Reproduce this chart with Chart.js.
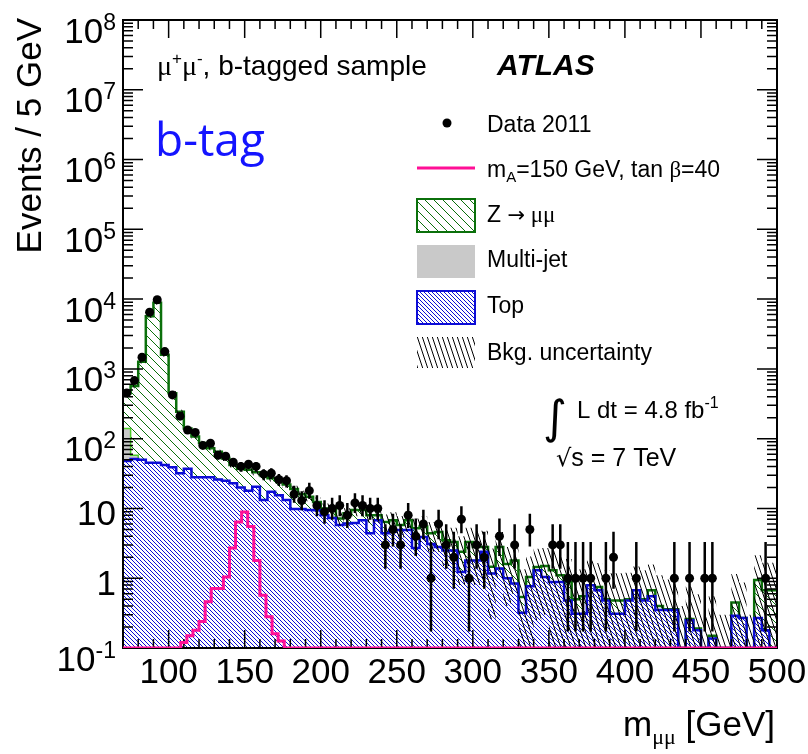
<!DOCTYPE html>
<html>
<head>
<meta charset="utf-8">
<title>m_mumu, b-tagged sample</title>
<script src="https://cdn.jsdelivr.net/npm/chart.js@4.4.1/dist/chart.umd.min.js"></script>
<style>
    html, body { margin: 0; padding: 0; background: #fff; }
    #wrap { width: 808px; height: 754px; }
</style>
</head>
<body>
<div id="wrap"><canvas id="massChart" width="808" height="754"></canvas></div>
<script>
(function () {
    'use strict';

    // 5 GeV bins, 70 - 500 GeV
    var binEdges = [70, 75, 80, 85, 90, 95, 100, 105, 110, 115, 120, 125, 130, 135, 140, 145, 150, 155, 160, 165,
        170, 175, 180, 185, 190, 195, 200, 205, 210, 215, 220, 225, 230, 235, 240, 245, 250, 255, 260, 265,
        270, 275, 280, 285, 290, 295, 300, 305, 310, 315, 320, 325, 330, 335, 340, 345, 350, 355, 360, 365,
        370, 375, 380, 385, 390, 395, 400, 405, 410, 415, 420, 425, 430, 435, 440, 445, 450, 455, 460, 465,
        470, 475, 480, 485, 490, 495, 500];

    var dataCounts = [450, 680, 1470, 6500, 9800, 1770, 424, 210, 133, 123,
        80, 86, 58, 56, 46, 40, 43, 40, 31, 32,
        26, 25, 16, 13, 18, 11, 9, 10, 11, 8,
        12, 11, 10, 10, 3, 5, 3, 8, 4, 6,
        1, 6, 3, 2, 7, 1, 3, 2, 0, 4,
        0, 3, 0, 5, 0, 0, 3, 3, 1, 1,
        1, 1, 0, 1, 2, 0, 0, 1, 0, 0,
        0, 0, 1, 0, 1, 0, 1, 1, 0, 0,
        0, 0, 0, 0, 1, 0];

    var zmumuValues = [307, 512, 1220, 5655, 8855, 1548, 408, 212, 103, 79,
        59, 45, 39, 27, 19, 17, 18, 12.5, 16.8, 9.7,
        9.5, 8.8, 9.2, 6.2, 5.2, 3.0, 2.0, 2.7, 1.4, 2.4,
        3.3, 2.7, 3.6, 1.2, 2.0, 1.9, 0.9, 1.9, 2.5, 1.6,
        1.3, 1.8, 1.0, 0.8, 1.17, 1.5, 1.0, 0.4, 0.29, 1.42,
        0.6, 0.96, 0.22, 0.27, 0.15, 0.46, 0.42, 0.22, 0.4, 0.19,
        0.24, 0, 0.08, 0.02, 0.17, 0.17, 0.02, 0, 0.02, 0.12,
        0.05, 0.01, 0.01, 0, 0.01, 0.01, 0, 0.013, 0, 0,
        0.16, 0, 0, 0.67, 0.49, 0.67];

    // only the first bins carry multi-jet
    var multijetValues = [92, 7];

    var topValues = [48, 51, 50, 45, 45, 42, 39, 32, 37, 28,
        28, 28, 26, 25, 23, 20, 18, 20.5, 13.2, 17.3,
        15.5, 13.2, 9.8, 9.8, 9.5, 9.4, 8.0, 7.3, 5.8, 6.1,
        6.2, 6.8, 4.4, 6.8, 4.4, 4.9, 4.9, 4.9, 2.7, 3.9,
        3.1, 2.8, 2.5, 2.5, 1.23, 1.8, 1.8, 2.4, 1.17, 1.38,
        1.0, 0.84, 0.32, 0.77, 1.3, 1.04, 0.88, 0.88, 0.48, 0.31,
        0.31, 0.79, 0.67, 0.48, 0.31, 0.31, 0.48, 0.67, 0.48, 0.55,
        0.35, 0.35, 0.35, 0, 0.25, 0.18, 0, 0.137, 0, 0,
        0.29, 0.27, 0, 0.27, 0.18, 0];

    var bkgError = [30, 40, 80, 350, 550, 100, 30, 15, 9, 7,
        6, 5, 4.5, 4, 3.5, 3.2, 3.2, 3, 2.8, 2.6,
        2.5, 2.3, 2.1, 2, 2, 2, 1.8, 1.8, 1.6, 1.6,
        1.8, 1.8, 1.8, 1.8, 1.8, 2, 2, 2.2, 2, 2.2,
        2, 2.2, 2, 2, 1.6, 2, 2, 2, 1.2, 1.8,
        1.2, 1.2, 0.8, 1, 1.2, 1.2, 1.2, 1.1, 1, 0.8,
        0.8, 1, 0.9, 0.8, 0.7, 0.7, 0.7, 0.8, 0.8, 0.9,
        0.7, 0.6, 0.6, 0.4, 0.5, 0.4, 0.3, 0.4, 0.3, 0.3,
        0.7, 0.6, 0.3, 1.2, 1, 1];

    // signal histogram uses 4 GeV bins
    var signalEdges = [70, 108, 112, 116, 120, 124, 128, 132, 136, 140, 144, 148, 152, 156, 160, 164, 168, 172, 176, 500];
    var signalValues = [0, 0.12, 0.15, 0.18, 0.24, 0.46, 0.71, 0.71, 1.04, 2.7, 6.4, 8.9, 5.5, 1.8, 0.57, 0.28, 0.16, 0.126, 0];

    var xTickLabels = [100, 150, 200, 250, 300, 350, 400, 450, 500];
    var yTickPowers = [-1, 0, 1, 2, 3, 4, 5, 6, 7, 8];

    // 68% Poisson intervals for small counts
    var poissonLo = [0, 0.173, 0.708, 1.367, 2.086, 2.840, 3.620, 4.419, 5.232, 6.057, 6.891,
        7.734, 8.585, 9.441, 10.30, 11.17, 12.04, 12.92, 13.80, 14.68, 15.57];
    var poissonHi = [1.841, 3.300, 4.638, 5.918, 7.163, 8.382, 9.584, 10.77, 11.95, 13.11, 14.27,
        15.42, 16.56, 17.70, 18.83, 19.96, 21.08, 22.20, 23.32, 24.44, 25.55];

    var Y_MIN = 0.1;
    var Y_MAX = 1e8;
    var SANS = '"Liberation Sans", Arial, Helvetica, sans-serif';
    var SERIF = '"Liberation Serif", "DejaVu Serif", serif';
    var GREEN = '#0b700b';
    var BLUE = '#0c0cd6';
    var PINK = '#ff0f96';
    var GREY = '#c9c9c9';

    var canvas = document.getElementById('massChart');
    var mainCtx = canvas.getContext('2d');

    function hatch(color, bg, step, steep, width) {
        var c = document.createElement('canvas');
        var w = step;
        var h = steep ? step * 3 : step;
        c.width = w;
        c.height = h;
        var g = c.getContext('2d');
        if (bg) {
            g.fillStyle = bg;
            g.fillRect(0, 0, w, h);
        }
        g.strokeStyle = color;
        g.lineWidth = width;
        g.beginPath();
        for (var k = -1; k <= 1; k++) {
            g.moveTo(k * w, 0);
            g.lineTo(k * w + w, h);
        }
        g.stroke();
        return mainCtx.createPattern(c, 'repeat');
    }

    var zHatch = hatch(GREEN, '#fff', 9, false, 1);
    var topHatch = hatch(BLUE, '#fff', 4, false, 1);
    var bandHatch = hatch('#000', null, 5, true, 1);

    function clampLog(v) {
        return v > Y_MIN ? v : Y_MIN;
    }

    function stepPoints(edges, values) {
        var pts = [];
        for (var i = 0; i < values.length; i++) {
            pts.push({ x: edges[i], y: clampLog(values[i]) });
        }
        pts.push({ x: edges[values.length], y: clampLog(values[values.length - 1]) });
        return pts;
    }

    var topStack = [];
    var mjStack = [];
    var zStack = [];
    var bandHi = [];
    var bandLo = [];
    for (var i = 0; i < topValues.length; i++) {
        var t = topValues[i];
        var m = t + (multijetValues[i] || 0);
        var z = m + zmumuValues[i];
        topStack.push(t);
        mjStack.push(m);
        zStack.push(z);
        bandHi.push(z + bkgError[i]);
        bandLo.push(z - bkgError[i]);
    }

    var dataPoints = [];
    for (i = 0; i < dataCounts.length; i++) {
        if (dataCounts[i] > 0) {
            dataPoints.push({ x: (binEdges[i] + binEdges[i + 1]) / 2, y: dataCounts[i], n: dataCounts[i] });
        }
    }

    function poissonRange(n) {
        if (n < poissonLo.length) {
            return [poissonLo[n], poissonHi[n]];
        }
        var s = Math.sqrt(n);
        return [n - s, n + s];
    }

    function drawRuns(ctx, x, y, runs, align) {
        var total = 0;
        runs.forEach(function (r) {
            ctx.font = r.font;
            r.w = ctx.measureText(r.t).width;
            total += r.w;
        });
        if (align === 'right') {
            x -= total;
        }
        ctx.textAlign = 'left';
        runs.forEach(function (r) {
            ctx.font = r.font;
            ctx.fillText(r.t, x, y + (r.dy || 0));
            x += r.w;
        });
    }

    function drawFrame(chart) {
        var ctx = chart.ctx;
        var a = chart.chartArea;
        var xs = chart.scales.x;
        var ys = chart.scales.y;
        ctx.save();
        ctx.strokeStyle = '#000';
        ctx.lineWidth = 1.5;
        ctx.beginPath();
        for (var v = 70; v <= 500; v += 10) {
            var px = xs.getPixelForValue(v);
            var len = v % 50 === 0 ? 18 : 9;
            ctx.moveTo(px, a.bottom);
            ctx.lineTo(px, a.bottom - len);
            ctx.moveTo(px, a.top);
            ctx.lineTo(px, a.top + len);
        }
        yTickPowers.forEach(function (p) {
            for (var k = 1; k <= 9; k++) {
                if (p === 8 && k > 1) {
                    break;
                }
                var py = ys.getPixelForValue(k * Math.pow(10, p));
                var l = k === 1 ? 20 : 10;
                ctx.moveTo(a.left, py);
                ctx.lineTo(a.left + l, py);
                ctx.moveTo(a.right, py);
                ctx.lineTo(a.right - l, py);
            }
        });
        ctx.stroke();
        ctx.lineWidth = 2;
        ctx.strokeRect(a.left, a.top, a.right - a.left, a.bottom - a.top);
        ctx.restore();
    }

    function drawErrorBars(chart) {
        var ctx = chart.ctx;
        var a = chart.chartArea;
        var xs = chart.scales.x;
        var ys = chart.scales.y;
        ctx.save();
        ctx.beginPath();
        ctx.rect(a.left, a.top, a.right - a.left, a.bottom - a.top);
        ctx.clip();
        ctx.strokeStyle = '#000';
        ctx.lineWidth = 2.5;
        ctx.beginPath();
        dataPoints.forEach(function (d) {
            var r = poissonRange(d.n);
            var px = xs.getPixelForValue(d.x);
            var lo = r[0] > 1e-3 ? ys.getPixelForValue(r[0]) : a.bottom;
            ctx.moveTo(px, Math.min(lo, a.bottom));
            ctx.lineTo(px, ys.getPixelForValue(r[1]));
        });
        ctx.stroke();
        ctx.restore();
    }

    function drawAxisText(chart) {
        var ctx = chart.ctx;
        var a = chart.chartArea;
        var xs = chart.scales.x;
        var ys = chart.scales.y;
        ctx.save();
        ctx.fillStyle = '#000';
        ctx.textBaseline = 'alphabetic';

        ctx.font = '35px ' + SANS;
        ctx.textAlign = 'center';
        xTickLabels.forEach(function (v) {
            ctx.fillText(String(v), xs.getPixelForValue(v), a.bottom + 35);
        });

        yTickPowers.forEach(function (p) {
            var py = ys.getPixelForValue(Math.pow(10, p));
            if (p === 0 || p === 1) {
                drawRuns(ctx, 116, py + 16.5, [{ t: p === 0 ? '1' : '10', font: '35px ' + SANS }], 'right');
            } else {
                drawRuns(ctx, 116, py + 22.5, [
                    { t: '10', font: '35px ' + SANS },
                    { t: String(p), font: '23px ' + SANS, dy: -13 }
                ], 'right');
            }
        });

        // axis titles
        ctx.save();
        ctx.translate(41, 18);
        ctx.rotate(-Math.PI / 2);
        ctx.font = '35px ' + SANS;
        ctx.textAlign = 'right';
        ctx.fillText('Events / 5 GeV', 0, 0);
        ctx.restore();

        drawRuns(ctx, a.right - 2, 736, [
            { t: 'm', font: '35px ' + SANS },
            { t: '\u03bc\u03bc', font: '22px ' + SERIF, dy: 8 },
            { t: ' [GeV]', font: '35px ' + SANS }
        ], 'right');
        ctx.restore();
    }

    function drawLabels(chart) {
        var ctx = chart.ctx;
        ctx.save();
        ctx.fillStyle = '#000';
        ctx.textBaseline = 'alphabetic';

        drawRuns(ctx, 157, 75, [
            { t: '\u03bc', font: '28px ' + SERIF },
            { t: '+', font: '17px ' + SANS, dy: -11 },
            { t: '\u03bc', font: '28px ' + SERIF },
            { t: '-', font: '17px ' + SANS, dy: -11 },
            { t: ', b-tagged sample', font: '28px ' + SANS }
        ]);

        ctx.font = 'italic bold 30px ' + SANS;
        ctx.textAlign = 'left';
        ctx.fillText('ATLAS', 497, 75);

        ctx.fillStyle = '#1414ff';
        ctx.font = '46px "Open Sans", Lato, sans-serif';
        ctx.fillText('b-tag', 155, 156);
        ctx.fillStyle = '#000';

        ctx.font = '46px "DejaVu Sans", sans-serif';
        ctx.fillText('\u222b', 543, 433);
        drawRuns(ctx, 577, 418, [
            { t: 'L dt = 4.8 fb', font: '24px ' + SANS },
            { t: '-1', font: '16px ' + SANS, dy: -10 }
        ]);
        drawRuns(ctx, 556, 466, [
            { t: '\u221a', font: '24px "DejaVu Sans", sans-serif' },
            { t: 's = 7 TeV', font: '25px ' + SANS }
        ]);

        // legend
        var tx = 487;
        var bx = 417;
        var bw = 58;
        var f = '23px ' + SANS;

        ctx.beginPath();
        ctx.arc(447, 123, 4.5, 0, Math.PI * 2);
        ctx.fill();
        drawRuns(ctx, tx, 132, [{ t: 'Data 2011', font: f }]);

        ctx.strokeStyle = PINK;
        ctx.lineWidth = 3;
        ctx.beginPath();
        ctx.moveTo(bx, 168);
        ctx.lineTo(bx + bw, 168);
        ctx.stroke();
        drawRuns(ctx, tx, 177, [
            { t: 'm', font: f },
            { t: 'A', font: '15px ' + SANS, dy: 5 },
            { t: '=150 GeV, tan ', font: f },
            { t: '\u03b2', font: '23px ' + SERIF },
            { t: '=40', font: f }
        ]);

        ctx.fillStyle = zHatch;
        ctx.fillRect(bx, 199, bw, 33);
        ctx.strokeStyle = GREEN;
        ctx.lineWidth = 2;
        ctx.strokeRect(bx, 199, bw, 33);
        ctx.fillStyle = '#000';
        drawRuns(ctx, tx, 222, [
            { t: 'Z ', font: f },
            { t: '\u2192', font: '21px "DejaVu Sans", sans-serif' },
            { t: ' \u03bc\u03bc', font: '23px ' + SERIF }
        ]);

        ctx.fillStyle = GREY;
        ctx.fillRect(bx, 245, bw, 33);
        ctx.fillStyle = '#000';
        drawRuns(ctx, tx, 267, [{ t: 'Multi-jet', font: f }]);

        ctx.fillStyle = topHatch;
        ctx.fillRect(bx, 291, bw, 33);
        ctx.strokeStyle = BLUE;
        ctx.strokeRect(bx, 291, bw, 33);
        ctx.fillStyle = '#000';
        drawRuns(ctx, tx, 313, [{ t: 'Top', font: f }]);

        ctx.fillStyle = bandHatch;
        ctx.fillRect(bx, 337, bw, 31);
        ctx.fillStyle = '#000';
        drawRuns(ctx, tx, 360, [{ t: 'Bkg. uncertainty', font: f }]);

        ctx.restore();
    }

    var atlasDecor = {
        id: 'atlasDecor',
        beforeDatasetDraw: function (chart, args) {
            if (args.index === 1) {
                drawFrame(chart);
            }
            if (args.index === 0) {
                drawErrorBars(chart);
            }
        },
        afterDraw: function (chart) {
            drawAxisText(chart);
            drawLabels(chart);
        }
    };

    function histDataset(label, edges, values, color, width, fill, bg) {
        return {
            label: label,
            data: stepPoints(edges, values),
            stepped: true,
            borderColor: color,
            borderWidth: width,
            pointRadius: 0,
            fill: fill,
            backgroundColor: bg || 'transparent'
        };
    }

    new Chart(canvas, {
        type: 'line',
        data: {
            datasets: [
                {
                    label: 'Data 2011',
                    type: 'scatter',
                    data: dataPoints,
                    pointRadius: 4.5,
                    pointBackgroundColor: '#000',
                    pointBorderWidth: 0,
                    showLine: false
                },
                histDataset('Signal', signalEdges, signalValues, PINK, 3, false),
                histDataset('Bkg. uncertainty', binEdges, bandHi, 'transparent', 0, '+1', bandHatch),
                histDataset('band low', binEdges, bandLo, 'transparent', 0, false),
                histDataset('Top', binEdges, topStack, BLUE, 2.5, 'start', topHatch),
                histDataset('Multi-jet', binEdges, mjStack, '#4ccc28', 1.5, 'start', GREY),
                histDataset('Z', binEdges, zStack, GREEN, 2.5, 'start', zHatch)
            ]
        },
        options: {
            responsive: false,
            animation: false,
            devicePixelRatio: 1,
            layout: { padding: { left: 123, top: 20, right: 31, bottom: 106 } },
            scales: {
                x: { type: 'linear', min: 70, max: 500, display: false },
                y: { type: 'logarithmic', min: Y_MIN, max: Y_MAX, display: false }
            },
            plugins: {
                legend: { display: false },
                tooltip: { enabled: false }
            },
            elements: { line: { tension: 0 } }
        },
        plugins: [atlasDecor]
    });
})();
</script>
</body>
</html>
